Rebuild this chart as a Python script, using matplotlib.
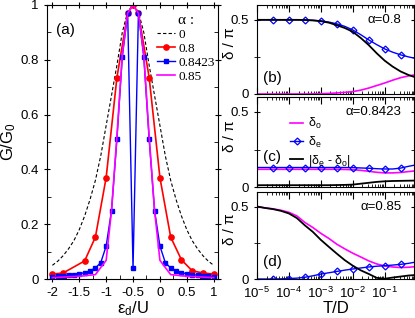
import numpy as np
import matplotlib
matplotlib.use("Agg")
import matplotlib.pyplot as plt
from matplotlib.ticker import MultipleLocator, FixedLocator, FixedFormatter, LogLocator, NullFormatter

plt.rcParams['font.family'] = ['Liberation Sans', 'DejaVu Sans']
plt.rcParams['mathtext.default'] = 'regular'
plt.rcParams['axes.unicode_minus'] = False
plt.rcParams['axes.linewidth'] = 0.8

## panel (a): conductance vs eps_d/U
eps_grid = [-2.0, -1.9, -1.8, -1.7, -1.6, -1.5, -1.4, -1.3, -1.2, -1.1, -1.0,
            -0.9, -0.8, -0.7, -0.6, -0.5, -0.4, -0.3, -0.2, -0.1, 0.0,
            0.1, 0.2, 0.3, 0.4, 0.5, 0.6, 0.7, 0.8, 0.9, 1.0]
G_a00 = [0.05, 0.065, 0.085, 0.11, 0.14, 0.18, 0.23, 0.29, 0.36, 0.45, 0.56,
         0.67, 0.78, 0.90, 0.975, 1.0, 0.975, 0.90, 0.78, 0.67, 0.56,
         0.45, 0.36, 0.29, 0.23, 0.18, 0.14, 0.11, 0.085, 0.065, 0.05]
eps_red = [-2.0, -1.8, -1.4, -1.2, -1.0, -0.8, -0.6, -0.5, -0.4, -0.2, 0.0, 0.2, 0.4, 0.6, 0.8, 1.0]
G_a08 = [0.018, 0.022, 0.066, 0.153, 0.37, 0.735, 0.97, 1.0, 0.97, 0.735, 0.37, 0.153, 0.07, 0.03, 0.022, 0.018]
G_a0842 = [0.009, 0.010, 0.012, 0.014, 0.016, 0.019, 0.023, 0.03, 0.04, 0.06, 0.12,
           0.25, 0.51, 0.81, 0.97, 0.04, 0.97, 0.81, 0.51, 0.25, 0.12,
           0.06, 0.04, 0.03, 0.023, 0.019, 0.016, 0.014, 0.012, 0.010, 0.009]
G_a085 = [0.005, 0.006, 0.007, 0.008, 0.009, 0.010, 0.012, 0.014, 0.016, 0.042, 0.068,
          0.25, 0.52, 0.82, 0.97, 1.0, 0.97, 0.82, 0.52, 0.25, 0.068,
          0.042, 0.016, 0.014, 0.012, 0.010, 0.009, 0.008, 0.007, 0.006, 0.005]

## panels (b)-(d): phase shifts vs T/D
logT = [-5, -4.75, -4.5, -4.25, -4, -3.75, -3.5, -3.25, -3, -2.75, -2.5,
        -2.25, -2, -1.75, -1.5, -1.25, -1, -0.75, -0.5, -0.25, 0]
T = 10.0 ** np.array(logT)

de_b = [0.5, 0.5, 0.5, 0.5, 0.5, 0.5, 0.499, 0.497, 0.493, 0.485, 0.473,
        0.456, 0.432, 0.40, 0.365, 0.333, 0.304, 0.282, 0.264, 0.250, 0.238]
do_b = [0, 0, 0, 0, 0, 0, 0, 0.001, 0.002, 0.004, 0.007,
        0.011, 0.016, 0.026, 0.040, 0.057, 0.074, 0.093, 0.110, 0.122, 0.131]
dd_b = [0.5, 0.5, 0.5, 0.5, 0.5, 0.5, 0.499, 0.496, 0.491, 0.481, 0.464,
        0.445, 0.42, 0.378, 0.33, 0.275, 0.225, 0.185, 0.152, 0.128, 0.11]

de_c = [0.13, 0.13, 0.13, 0.13, 0.13, 0.13, 0.13, 0.13, 0.13, 0.13, 0.13,
        0.13, 0.129, 0.127, 0.125, 0.122, 0.12, 0.12, 0.126, 0.138, 0.148]
do_c = [0.118, 0.118, 0.118, 0.118, 0.118, 0.118, 0.118, 0.118, 0.118, 0.118, 0.118,
        0.117, 0.115, 0.111, 0.105, 0.098, 0.094, 0.094, 0.097, 0.103, 0.108]
dd_c = [0.012, 0.012, 0.012, 0.012, 0.012, 0.012, 0.012, 0.012, 0.012, 0.012, 0.013,
        0.014, 0.016, 0.022, 0.028, 0.034, 0.038, 0.04, 0.041, 0.042, 0.043]

de_d = [0, 0, 0, 0.001, 0.003, 0.006, 0.012, 0.022, 0.034, 0.043, 0.052,
        0.061, 0.069, 0.076, 0.083, 0.088, 0.092, 0.096, 0.101, 0.108, 0.118]
do_d = [0.5, 0.49, 0.484, 0.474, 0.46, 0.435, 0.39, 0.355, 0.315, 0.28, 0.24,
        0.208, 0.178, 0.152, 0.125, 0.104, 0.09, 0.083, 0.079, 0.081, 0.086]
dd_d = [0.5, 0.49, 0.482, 0.47, 0.452, 0.42, 0.37, 0.325, 0.27, 0.222, 0.175,
        0.13, 0.092, 0.06, 0.035, 0.008, 0.002, 0.01, 0.017, 0.024, 0.028]

alpha_txt = ['α=0.8', 'α=0.8423', 'α=0.85']
panel_txt = ['(b)', '(c)', '(d)']
T_ticks = [1e-5, 1e-4, 1e-3, 1e-2, 1e-1]
T_ticklabels = ['10$^{-5}$', '10$^{-4}$', '10$^{-3}$', '10$^{-2}$', '10$^{-1}$']

W, H = 415, 318
fig = plt.figure(figsize=(W / 100, H / 100), dpi=100)

def frac(l, t, r, b):
    return [l / W, 1 - b / H, (r - l) / W, (b - t) / H]

# ---- left panel
ax = fig.add_axes(frac(47, 5, 218, 279))
ax.plot(eps_grid, G_a00, ls=(0, (3, 2)), color='black', lw=0.8, label='0')
ax.plot(eps_red, G_a08, color='red', lw=1.2, marker='o', ms=3.8, label='0.8')
ax.plot(eps_grid, G_a0842, color='blue', lw=1.0, marker='s', ms=3.0, label='0.8423')
ax.plot(eps_grid, G_a085, color='magenta', lw=1.2, label='0.85')
ax.set_xlim(-2.1, 1.08)
ax.set_ylim(0, 1)
ax.xaxis.set_major_locator(MultipleLocator(0.5))
ax.xaxis.set_minor_locator(MultipleLocator(0.25))
ax.yaxis.set_major_locator(MultipleLocator(0.2))
ax.yaxis.set_minor_locator(MultipleLocator(0.1))
ax.yaxis.set_major_formatter(plt.FuncFormatter(lambda v, p: '%g' % v))
ax.xaxis.set_major_formatter(plt.FuncFormatter(lambda v, p: '%g' % v))
ax.tick_params(which='both', top=True, right=True, labelsize=9.5)
ax.tick_params(which='major', direction='inout', length=5)
ax.tick_params(which='minor', direction='in', length=3)
ax.set_xlabel('ε$_d$/U', fontsize=12, labelpad=0)
ax.set_ylabel('G/G$_0$', fontsize=12, labelpad=2)
ax.text(0.05, 0.91, '(a)', transform=ax.transAxes, fontsize=11, va='center')
leg = ax.legend(loc='upper left', bbox_to_anchor=(0.63, 0.975), frameon=False,
                title='α :', prop={'family': 'Liberation Serif', 'size': 9.5},
                handlelength=1.3, handletextpad=0.3, labelspacing=0.12,
                borderpad=0.2, borderaxespad=0.0)
leg.get_title().set_fontfamily('Liberation Serif')
leg.get_title().set_fontsize(11)
leg._legend_box.sep = 1

# ---- right panels
boxes = [(5, 94), (97, 187), (192, 279)]
rdata = [(de_b, do_b, dd_b), (de_c, do_c, dd_c), (de_d, do_d, dd_d)]
for i in range(3):
    t, b = boxes[i]
    de, do, dd = rdata[i]
    axr = fig.add_axes(frac(257, t, 414, b))
    axr.plot(T, do, color='magenta', lw=1.2, label='δ$_o$')
    axr.plot(T, de, color='blue', lw=1.0, marker='D', ms=3.5, mfc='none', mew=0.9,
             markevery=slice(2, 19, 2), label='δ$_e$')
    axr.plot(T, dd, color='black', lw=1.3, label='|δ$_e$ - δ$_o$|')
    axr.set_xscale('log')
    axr.set_xlim(1e-5, 10 ** -0.08)
    axr.set_ylim(0, 0.6)
    axr.yaxis.set_major_locator(FixedLocator([0, 0.5]))
    axr.yaxis.set_minor_locator(FixedLocator([0.25]))
    axr.yaxis.set_major_formatter(plt.FuncFormatter(lambda v, p: '%g' % v))
    axr.xaxis.set_major_locator(FixedLocator(T_ticks))
    axr.xaxis.set_minor_locator(LogLocator(base=10, subs=np.arange(2, 10), numticks=20))
    axr.xaxis.set_minor_formatter(NullFormatter())
    if i == 2:
        axr.xaxis.set_major_formatter(FixedFormatter(T_ticklabels))
        axr.set_xlabel('T/D', fontsize=12, labelpad=0)
    else:
        axr.xaxis.set_major_formatter(NullFormatter())
    axr.tick_params(which='both', top=True, right=True, labelsize=9.5)
    axr.tick_params(axis='x', which='major', direction='in', length=5, pad=5)
    axr.tick_params(axis='x', which='minor', direction='in', length=2.5)
    axr.tick_params(axis='y', which='major', direction='inout', length=5)
    axr.tick_params(axis='y', which='minor', direction='inout', length=4)
    axr.set_ylabel('δ / π', fontsize=11)
    axr.yaxis.set_label_coords(-0.13, 0.57)
    axr.text(0.92, 0.83, alpha_txt[i], transform=axr.transAxes, fontsize=9.5,
             ha='right', va='center')
    ypos = [0.18, 0.33, 0.2][i]
    axr.text(0.04, ypos, panel_txt[i], transform=axr.transAxes, fontsize=11, va='center')
    if i == 1:
        axr.legend(loc='upper left', bbox_to_anchor=(0.2, 0.8), frameon=False,
                   fontsize=9, handlelength=1.1, handletextpad=0.4,
                   labelspacing=0.25, borderpad=0.1, borderaxespad=0.0)

fig.savefig('out.png', dpi=100)
